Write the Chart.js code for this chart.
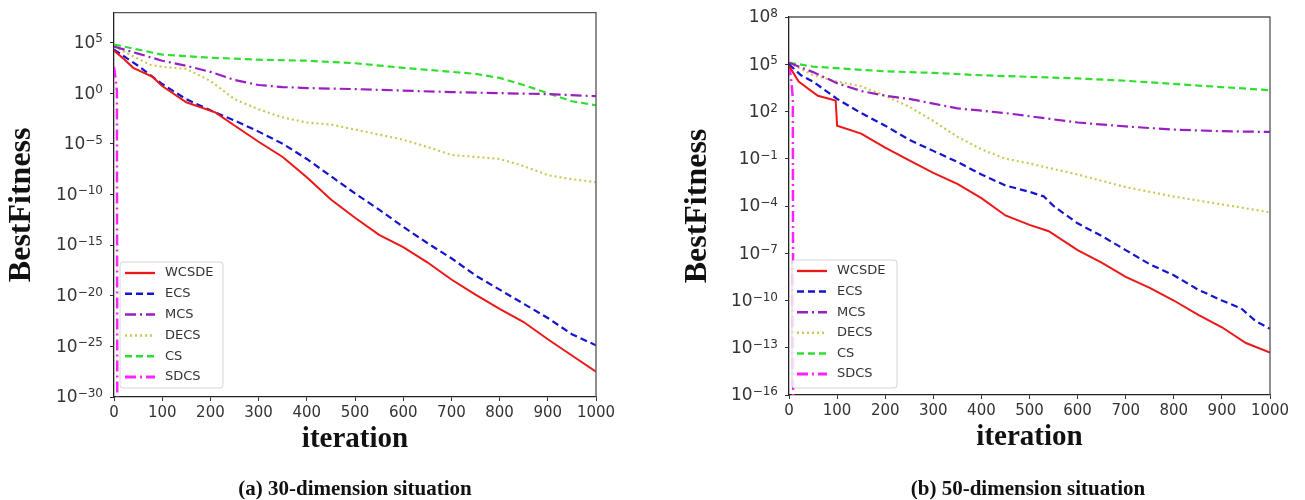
<!DOCTYPE html>
<html>
<head>
<meta charset="utf-8">
<script src="https://cdn.jsdelivr.net/npm/chart.js@4.4.1/dist/chart.umd.min.js"></script>
<style>
  body { margin: 0; background: #fff; }
  #wrap { position: relative; width: 1305px; height: 500px; background: #fff; overflow: hidden; }
  canvas { position: absolute; top: 0; }
  #c30 { left: 0; }
  #c50 { left: 676px; }
  .caption { position: absolute; top: 476px; width: 400px; text-align: center; font: bold 21px "Liberation Serif", "Times New Roman", serif; line-height: 24px; color: #111; }
</style>
</head>
<body>
<div id="wrap">
  <canvas id="c30" width="650" height="500"></canvas>
  <canvas id="c50" width="629" height="500"></canvas>
  <div class="caption" style="left:155px">(a) 30-dimension situation</div>
  <div class="caption" style="left:828px">(b) 50-dimension situation</div>
</div>
<script>
// series values are stored as log10(BestFitness)
const seriesNames = ['WCSDE', 'ECS', 'MCS', 'DECS', 'CS', 'SDCS'];

// ---- 30-dimension run ----
const iterWcsde30 = [0, 20, 40, 80, 100, 150, 210, 250, 300, 350, 400, 450, 500, 550, 600, 650, 700, 750, 800, 850, 900, 950, 1000];
const logWcsde30  = [4.2, 3.4, 2.5, 1.6, 0.7, -0.9, -1.9, -3.2, -4.8, -6.3, -8.3, -10.5, -12.3, -14.0, -15.2, -16.7, -18.4, -19.9, -21.3, -22.6, -24.3, -25.9, -27.5];
const iterEcs30 = [0, 50, 100, 150, 200, 250, 300, 350, 400, 450, 500, 550, 600, 650, 700, 750, 800, 850, 900, 950, 1000];
const logEcs30  = [4.3, 2.7, 0.9, -0.6, -1.7, -2.7, -3.8, -5.0, -6.5, -8.2, -9.9, -11.5, -13.2, -14.8, -16.3, -18.0, -19.4, -20.8, -22.2, -23.8, -24.9];
const iterMcs30 = [0, 50, 100, 150, 200, 250, 300, 350, 400, 500, 600, 700, 800, 900, 1000];
const logMcs30  = [4.6, 3.9, 3.2, 2.7, 2.1, 1.3, 0.8, 0.6, 0.5, 0.4, 0.25, 0.1, 0.0, -0.1, -0.3];
const iterDecs30 = [0, 50, 75, 100, 150, 200, 250, 300, 350, 400, 450, 500, 550, 600, 650, 700, 750, 800, 850, 900, 950, 1000];
const logDecs30  = [4.6, 3.4, 2.8, 2.6, 2.4, 1.2, -0.6, -1.6, -2.4, -2.9, -3.1, -3.6, -4.1, -4.6, -5.3, -6.1, -6.3, -6.5, -7.2, -8.1, -8.5, -8.8];
const iterCs30 = [0, 50, 100, 200, 300, 400, 500, 600, 700, 750, 800, 850, 900, 950, 1000];
const logCs30  = [4.8, 4.3, 3.8, 3.5, 3.3, 3.2, 2.95, 2.5, 2.1, 1.9, 1.5, 0.8, 0.0, -0.8, -1.2];
const iterSdcs30 = [0, 3, 6, 7];
const logSdcs30  = [2.6, 1.5, 0.2, -40];

// ---- 50-dimension run ----
const iterWcsde50 = [0, 20, 60, 97, 100, 150, 200, 250, 300, 350, 400, 450, 500, 540, 600, 650, 700, 750, 800, 850, 900, 950, 1000];
const logWcsde50  = [4.9, 3.9, 3.0, 2.7, 1.1, 0.6, -0.3, -1.1, -1.9, -2.6, -3.5, -4.6, -5.2, -5.6, -6.8, -7.6, -8.5, -9.2, -10.0, -10.9, -11.7, -12.7, -13.3];
const iterEcs50 = [0, 25, 50, 100, 150, 200, 250, 300, 350, 400, 450, 500, 530, 550, 600, 650, 700, 750, 800, 850, 900, 940, 970, 1000];
const logEcs50  = [5.0, 4.3, 3.9, 2.8, 1.9, 1.1, 0.2, -0.5, -1.2, -2.0, -2.7, -3.1, -3.4, -4.0, -5.1, -5.9, -6.8, -7.7, -8.4, -9.3, -10.0, -10.5, -11.3, -11.8];
const iterMcs50 = [0, 50, 100, 150, 200, 250, 300, 350, 400, 450, 500, 600, 700, 800, 900, 1000];
const logMcs50  = [5.1, 4.5, 3.8, 3.3, 3.0, 2.8, 2.5, 2.2, 2.05, 1.9, 1.7, 1.3, 1.05, 0.85, 0.75, 0.7];
const iterDecs50 = [0, 50, 100, 150, 200, 250, 300, 350, 400, 450, 500, 600, 700, 800, 900, 1000];
const logDecs50  = [5.1, 4.3, 3.9, 3.6, 3.0, 2.3, 1.4, 0.4, -0.4, -1.0, -1.3, -2.0, -2.8, -3.4, -3.9, -4.4];
const iterCs50 = [0, 50, 100, 200, 300, 400, 500, 600, 700, 800, 900, 1000];
const logCs50  = [5.1, 4.85, 4.75, 4.55, 4.45, 4.3, 4.2, 4.1, 3.95, 3.75, 3.55, 3.35];
const iterSdcs50 = [0, 5, 8, 9];
const logSdcs50  = [5.0, 3.9, 2.8, -30];

// axis ticks (y ticks as powers of ten)
const xTicks = [0, 100, 200, 300, 400, 500, 600, 700, 800, 900, 1000];
const yTicks30 = [5, 0, -5, -10, -15, -20, -25, -30];
const yTicks50 = [8, 5, 2, -1, -4, -7, -10, -13, -16];

// line look per series
const lineColors = ['#ee1717', '#1515cf', '#9a1fc2', '#c9c958', '#2fdf2f', '#ff22ff'];
const lineDashes = [[], [7, 4], [11, 4, 2, 4], [2, 3], [7, 4], [11, 4, 2, 4]];
const lineWidths = [2, 2.2, 2.2, 2.2, 2.2, 2.5];

const toPoints = (iters, logs) => iters.map((x, i) => ({ x: x, y: Math.pow(10, logs[i]) }));

function makeDatasets(seriesList) {
  return seriesList.map(([iters, logs], i) => ({
    label: seriesNames[i],
    data: toPoints(iters, logs),
    borderColor: lineColors[i],
    borderDash: lineDashes[i],
    borderWidth: lineWidths[i],
    pointRadius: 0,
    fill: false,
    tension: 0
  }));
}

// legend drawn inside the plot, bottom-left, with line samples
const lineLegend = {
  id: 'lineLegend',
  afterDatasetsDraw(chart, args, opts) {
    const { ctx, chartArea } = chart;
    const sets = chart.data.datasets;
    const left = chartArea.left + opts.dx;
    const bottom = chartArea.bottom - opts.dy;
    const top = bottom - opts.height;
    ctx.save();
    ctx.beginPath();
    ctx.roundRect(left, top, opts.width, opts.height, 3);
    ctx.fillStyle = 'rgba(255,255,255,0.85)';
    ctx.fill();
    ctx.strokeStyle = '#d6d6d6';
    ctx.lineWidth = 1;
    ctx.stroke();
    ctx.font = '13px "DejaVu Sans"';
    ctx.textBaseline = 'middle';
    sets.forEach((ds, i) => {
      const y = top + 11 + i * opts.rowGap;
      ctx.beginPath();
      ctx.setLineDash(ds.borderDash);
      ctx.strokeStyle = ds.borderColor;
      ctx.lineWidth = ds.borderWidth + 0.3;
      ctx.moveTo(left + 5, y);
      ctx.lineTo(left + 35, y);
      ctx.stroke();
      ctx.setLineDash([]);
      ctx.fillStyle = '#333';
      ctx.fillText(ds.label, left + 45, y);
    });
    ctx.restore();
  }
};

// power-of-ten labels on the y axis, with a raised exponent
const powerLabels = {
  id: 'powerLabels',
  afterDraw(chart) {
    const { ctx } = chart;
    const scale = chart.scales.y;
    const right = chart.chartArea.left - 11;
    ctx.save();
    ctx.fillStyle = '#333';
    ctx.textAlign = 'right';
    scale.ticks.forEach(t => {
      const y = scale.getPixelForValue(t.value);
      const exp = Math.round(Math.log10(t.value));
      const expText = exp < 0 ? '\u2212' + (-exp) : String(exp);
      ctx.font = '12px "DejaVu Sans"';
      ctx.textBaseline = 'alphabetic';
      ctx.fillText(expText, right, y);
      const w = ctx.measureText(expText).width;
      ctx.font = '17px "DejaVu Sans"';
      ctx.textBaseline = 'middle';
      ctx.fillText('10', right - w, y + 1);
    });
    ctx.restore();
  }
};

// top and right spines
const frameBox = {
  id: 'frameBox',
  afterDraw(chart) {
    const { ctx, chartArea: a } = chart;
    ctx.save();
    ctx.strokeStyle = '#555';
    ctx.lineWidth = 1.3;
    ctx.beginPath();
    ctx.moveTo(a.left, a.top);
    ctx.lineTo(a.right, a.top);
    ctx.lineTo(a.right, a.bottom);
    ctx.stroke();
    ctx.restore();
  }
};

function makeChart(canvasId, datasets, yMin, yMax, yTicks, padding, legendOpts) {
  return new Chart(document.getElementById(canvasId), {
    type: 'line',
    data: { datasets: datasets },
    options: {
      responsive: false,
      animation: false,
      events: [],
      layout: { padding: padding },
      plugins: {
        legend: { display: false },
        tooltip: { enabled: false },
        lineLegend: legendOpts
      },
      scales: {
        x: {
          type: 'linear',
          min: 0,
          max: 1000,
          afterBuildTicks: s => { s.ticks = xTicks.map(v => ({ value: v })); },
          afterFit: s => { s.height = 60; },
          ticks: { color: '#333', font: { family: 'DejaVu Sans', size: 15 }, padding: 3, maxRotation: 0, autoSkip: false,
                   callback: v => String(v) },
          grid: { drawOnChartArea: false, drawTicks: true, tickLength: 4, color: '#333' },
          border: { color: '#222', width: 1.3 },
          title: { display: true, text: 'iteration', color: '#111', padding: { top: 0, bottom: 0 },
                   font: { family: 'Liberation Serif', weight: 'bold', size: 29 } }
        },
        y: {
          type: 'logarithmic',
          min: yMin,
          max: yMax,
          afterBuildTicks: s => { s.ticks = yTicks.map(e => ({ value: Math.pow(10, e) })); },
          afterFit: s => { s.width = padding.yWidth; },
          // labels themselves are painted by powerLabels
          ticks: { color: 'rgba(0,0,0,0)', font: { family: 'DejaVu Sans', size: 16 }, padding: 3, autoSkip: false },
          grid: { drawOnChartArea: false, drawTicks: true, tickLength: 4, color: '#333' },
          border: { color: '#222', width: 1.3 },
          title: { display: true, text: 'BestFitness', color: '#111', padding: { top: 3, bottom: 0 },
                   font: { family: 'Liberation Serif', weight: 'bold', size: 32 } }
        }
      }
    },
    plugins: [lineLegend, powerLabels, frameBox]
  });
}

makeChart('c30',
  makeDatasets([[iterWcsde30, logWcsde30], [iterEcs30, logEcs30], [iterMcs30, logMcs30],
                [iterDecs30, logDecs30], [iterCs30, logCs30], [iterSdcs30, logSdcs30]]),
  1e-30, Math.pow(10, 7.95), yTicks30,
  { top: 10, right: 54, bottom: 43, left: 0, yWidth: 114 },
  { dx: 6, dy: 9, width: 103, height: 126, rowGap: 20.8 });

makeChart('c50',
  makeDatasets([[iterWcsde50, logWcsde50], [iterEcs50, logEcs50], [iterMcs50, logMcs50],
                [iterDecs50, logDecs50], [iterCs50, logCs50], [iterSdcs50, logSdcs50]]),
  1e-16, 1e8, yTicks50,
  { top: 17, right: 35, bottom: 45, left: 0, yWidth: 113 },
  { dx: 3, dy: 7, width: 105, height: 128, rowGap: 20.6 });
</script>
</body>
</html>
